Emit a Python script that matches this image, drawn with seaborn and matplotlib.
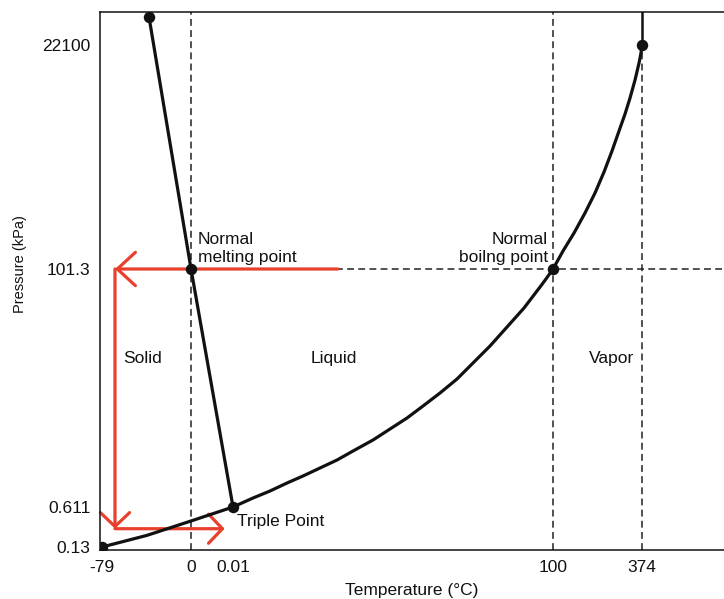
import numpy as np
import matplotlib
matplotlib.use("Agg")
import matplotlib.pyplot as plt
import seaborn as sns

# ---- data: phase diagram of water (schematic, not to scale) ----
temp_ticks = [-79, 0, 0.01, 100, 374]
temp_tick_labels = ["-79", "0", "0.01", "100", "374"]
pres_ticks = [0.13, 0.611, 101.3, 22100]
pres_tick_labels = ["0.13", "0.611", "101.3", "22100"]

# sublimation + vaporization curve (solid/gas, liquid/gas) up to the critical point
vap_T = [-79, -39.1, 0, 0.01, 6.26, 11.57, 16.88, 21.88, 27.19, 32.51, 37.51,
         43.76, 49.07, 54.38, 59.38, 64.69, 70.0, 75.0, 80.31, 85.63, 90.94,
         95.94, 97.8, 100, 130.8, 164.7, 198.5, 229.3, 257.0, 281.6, 303.2,
         321.7, 337.1, 352.5, 364.8, 370.9, 374]
vap_P = [0.13, 0.27, 0.443, 0.611, 4.42, 7.38, 10.76, 13.73, 17.11, 20.49, 24.30,
         28.96, 33.61, 38.26, 43.34, 48.84, 54.76, 61.53, 68.72, 76.76, 84.80,
         93.68, 97.07, 101.3, 1869, 3637, 5601, 7565, 9627, 11690, 13654,
         15324, 16895, 18663, 20332, 21314, 22100]

# melting curve (solid/liquid)
melt_T = [-37.3, 0, 0.01]
melt_P = [24850, 101.3, 0.611]

# marked points
point_T = [-79, 0.01, 0, 100, 374, -37.3]
point_P = [0.13, 0.611, 101.3, 101.3, 22100, 24850]

# isobar / isotherm paths
path_T_start = 32.8
path_T_corner = -67.5
path_T_end = 0.008
path_P_low = 0.35
P_atm = 101.3
T_crit, P_crit = 374, 22100

T_MIN, T_MAX = -80.8, 626.5
P_MIN, P_MAX = 0.094, 25341

# ---- schematic (piecewise linear) axis scales ----
_T_anchor = np.array([-300, -79, 0, 0.01, 100, 374, 2000], dtype=float)
_T_pos = np.array([-147, 102, 191, 233, 553, 642, 1170], dtype=float)
_P_anchor = np.array([-1, 0.13, 0.611, 101.3, 22100, 100000], dtype=float)
_P_pos = np.array([-641, -547, -507, -269, -45, 748], dtype=float)


def t_fwd(v):
    return np.interp(v, _T_anchor, _T_pos)


def t_inv(u):
    return np.interp(u, _T_pos, _T_anchor)


def p_fwd(v):
    return np.interp(v, _P_anchor, _P_pos)


def p_inv(u):
    return np.interp(u, _P_pos, _P_anchor)


sns.set_style("white")
plt.rcParams["font.family"] = ["Liberation Sans", "DejaVu Sans"]

fig = plt.figure(figsize=(7.24, 5.99), dpi=100)
ax = fig.add_axes([100 / 724, 49 / 599, 624 / 724, 538 / 599])
ax.set_xscale("function", functions=(t_fwd, t_inv))
ax.set_yscale("function", functions=(p_fwd, p_inv))

ink = "#111111"
red = "#e8402c"
dash_kw = dict(color="#222222", lw=1.1, dashes=(4.5, 2.8), zorder=1)

# reference isotherms and isobar
ax.plot([0, 0], [P_MIN, P_MAX], **dash_kw)
ax.plot([100, 100], [P_MIN, P_MAX], **dash_kw)
ax.plot([T_crit, T_crit], [P_MIN, P_crit], **dash_kw)
ax.plot([0, T_MAX], [P_atm, P_atm], **dash_kw)

# phase boundaries
line_kw = dict(sort=False, estimator=None, color=ink, lw=2.3, ax=ax, zorder=3)
sns.lineplot(x=vap_T, y=vap_P, **line_kw)
sns.lineplot(x=melt_T, y=melt_P, **line_kw)
ax.plot([T_crit, T_crit], [P_crit, P_MAX], color=ink, lw=1.8, zorder=3)
sns.scatterplot(x=point_T, y=point_P, color=ink, s=68, edgecolor=ink, linewidth=0,
                ax=ax, zorder=4)
for ln in ax.lines:
    ln.set_solid_joinstyle("round")

# red paths
big_head = "->,head_length=1.3,head_width=1.2"
small_head = "->,head_length=1.0,head_width=1.05"
arrow_kw = dict(color=red, lw=2.3, shrinkA=0, shrinkB=0, mutation_scale=10)
ax.annotate("", xy=(path_T_corner, P_atm), xytext=(path_T_start, P_atm),
            arrowprops=dict(arrowstyle=big_head, **arrow_kw), zorder=2.5)
ax.annotate("", xy=(path_T_corner, path_P_low), xytext=(path_T_corner, P_atm),
            arrowprops=dict(arrowstyle=small_head, **arrow_kw), zorder=2.5)
ax.annotate("", xy=(path_T_end, path_P_low), xytext=(path_T_corner, path_P_low),
            arrowprops=dict(arrowstyle=small_head, **arrow_kw), zorder=2.5)

# labels
fs = 12.5
ax.annotate("Normal\nmelting point", xy=(0, P_atm), xytext=(5, 3), textcoords="offset points",
            ha="left", va="bottom", fontsize=fs, color=ink, linespacing=1.2)
ax.annotate("Normal\nboilng point", xy=(100, P_atm), xytext=(-3.5, 3), textcoords="offset points",
            ha="right", va="bottom", fontsize=fs, color=ink, linespacing=1.2)
ax.annotate("Triple Point", xy=(0.01, 0.611), xytext=(3, -5), textcoords="offset points",
            ha="left", va="top", fontsize=fs, color=ink)
for name, fx in [("Solid", 0.0689), ("Liquid", 0.375), ("Vapor", 0.8205)]:
    ax.text(fx, 0.3476, name, transform=ax.transAxes, ha="center", va="baseline",
            fontsize=fs, color=ink)

# axes
ax.set_xlim(T_MIN, T_MAX)
ax.set_ylim(P_MIN, P_MAX)
ax.set_xticks(temp_ticks)
ax.set_xticklabels(temp_tick_labels)
ax.set_yticks(pres_ticks)
ax.set_yticklabels(pres_tick_labels)
ax.minorticks_off()
ax.tick_params(axis="both", direction="out", length=3.5, width=0.9, colors=ink,
               labelsize=fs, pad=3.5)
ax.set_xlabel("Temperature (\u00b0C)", fontsize=fs, color=ink, labelpad=6)
ax.set_ylabel("Pressure (kPa)", fontsize=10.5, color=ink)
ax.yaxis.set_label_coords(-0.117, 0.5316)

for side in ["left", "top", "bottom"]:
    ax.spines[side].set_visible(True)
    ax.spines[side].set_color(ink)
    ax.spines[side].set_linewidth(1.1)
ax.spines["right"].set_visible(False)
ax.grid(False)

fig.savefig("out.png", dpi=100)
